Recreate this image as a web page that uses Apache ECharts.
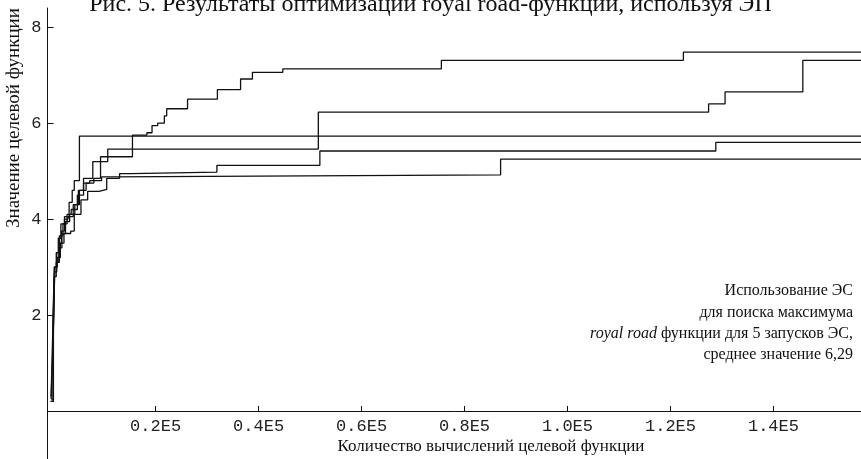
<!DOCTYPE html>
<html>
<head>
<meta charset="utf-8">
<script src="https://cdn.jsdelivr.net/npm/echarts@6/dist/echarts.min.js"></script>
<style>
html,body{margin:0;padding:0;background:#fff;}
#chart{width:861px;height:459px;}
</style>
</head>
<body>
<div id="chart"></div>
<script>
// ---- data ----
const titleText = 'Рис. 5. Результаты оптимизации royal road-функции, используя ЭП';
const yAxisTitle = 'Значение целевой функции';
const xAxisTitle = 'Количество вычислений целевой функции';
const xTickValues = [20000, 40000, 60000, 80000, 100000, 120000, 140000];
const xTickLabels = ['0.2E5', '0.4E5', '0.6E5', '0.8E5', '1.0E5', '1.2E5', '1.4E5'];
const yTickValues = [2, 4, 6, 8];
const yTickLabels = ['2', '4', '6', '8'];
const noteLine1 = 'Использование ЭС';
const noteLine2 = 'для поиска максимума';
const noteLine3Italic = 'royal road';
const noteLine3Rest = ' функции для 5 запусков ЭС,';
const noteLine4 = 'среднее значение 6,29';

const runA = [[-300,0.25],[0,1.2],[200,2.0],[400,2.9],[800,3.1],[1300,3.4],[1800,3.7],[2500,3.95],[3300,4.1],[4300,4.3],[5200,4.6],[6500,4.75],[8000,4.85],[9300,5.3],[15500,5.75],[18300,5.8],[19300,5.95],[20400,6.0],[21700,6.15],[22150,6.3],[26200,6.5],[32000,6.7],[36500,6.92],[38800,7.06],[44700,7.13],[75500,7.31],[122500,7.48],[157000,7.48]];
const runB = [[-400,0.2],[100,1.5],[300,2.8],[700,3.1],[1200,3.5],[1700,3.75],[2300,4.0],[3000,4.05],[4000,4.3],[5000,4.6],[6000,4.85],[7800,5.2],[10700,5.46],[51600,6.23],[127400,6.4],[130600,6.65],[145700,7.31],[157000,7.31]];
const runC = [[-300,0.3],[50,1.8],[300,3.0],[700,3.3],[1100,3.6],[1600,3.9],[2300,4.05],[3200,4.35],[3800,4.6],[4200,4.8],[5200,5.73],[157000,5.73]];
const runD = [[-400,0.2],[150,1.6],[400,3.0],[900,3.2],[1500,3.5],[2200,3.7],[3500,3.75],[4200,4.1],[5500,4.4],[6800,4.58],[9000,4.62],[10500,4.85],[13000,4.95],[15200,4.98],[31900,5.12],[51900,5.42],[128800,5.6],[157000,5.6]];
const runE = [[-300,0.25],[100,2.0],[400,3.0],[800,3.3],[1300,3.65],[2000,3.9],[2800,4.1],[3600,4.2],[4800,4.5],[6000,4.75],[7200,4.8],[9500,4.88],[11500,4.92],[87000,5.25],[157000,5.25]];
const runs = [runA, runB, runC, runD, runE];

// ---- chart ----
const chart = echarts.init(document.getElementById('chart'), null, {renderer: 'canvas'});
const serif = '"Liberation Serif", "Times New Roman", serif';
const mono = '"Liberation Mono", "Courier New", monospace';
const ink = '#111';

chart.setOption({
  animation: false,
  backgroundColor: '#ffffff',
  title: [{
    text: titleText,
    left: 'center',
    top: -12,
    textStyle: {fontFamily: serif, fontSize: 24, fontWeight: 'normal', color: ink}
  }],
  grid: {left: 47.5, right: 0, top: 8, bottom: 0, outerBoundsMode: 'none', containLabel: false},
  xAxis: {
    type: 'value',
    min: -1000,
    max: 157000,
    offset: -48,
    splitLine: {show: false},
    axisLine: {onZero: false, lineStyle: {color: ink, width: 1}},
    axisTick: {show: true, inside: true, length: 5, customValues: xTickValues, lineStyle: {color: ink}},
    axisLabel: {
      customValues: xTickValues,
      margin: 7,
      fontFamily: mono, fontSize: 17, color: '#222',
      formatter: v => { const i = xTickValues.indexOf(v); return i >= 0 ? xTickLabels[i] : ''; }
    }
  },
  yAxis: {
    type: 'value',
    min: -1,
    max: 8.4,
    splitLine: {show: false},
    axisLine: {onZero: false, lineStyle: {color: ink, width: 1}},
    axisTick: {show: true, inside: true, length: 6, customValues: yTickValues, lineStyle: {color: ink}},
    axisLabel: {
      customValues: yTickValues,
      margin: 6,
      fontFamily: mono, fontSize: 17, color: '#222',
      formatter: v => { const i = yTickValues.indexOf(v); return i >= 0 ? yTickLabels[i] : ''; }
    }
  },
  graphic: [
    {
      type: 'text', x: 14, y: 118, rotation: Math.PI / 2,
      style: {text: yAxisTitle, fontFamily: serif, fontSize: 19, fill: ink, align: 'center', verticalAlign: 'middle'}
    },
    {
      type: 'text', x: 491, y: 447,
      style: {text: xAxisTitle, fontFamily: serif, fontSize: 17, fill: ink, align: 'center', verticalAlign: 'middle'}
    },
    {
      type: 'text', x: 853, y: 291,
      style: {text: noteLine1, fontFamily: serif, fontSize: 16, fill: ink, align: 'right', verticalAlign: 'middle'}
    },
    {
      type: 'text', x: 853, y: 312.5,
      style: {text: noteLine2, fontFamily: serif, fontSize: 16, fill: ink, align: 'right', verticalAlign: 'middle'}
    },
    {
      type: 'text', x: 853, y: 334,
      style: {
        text: '{i|' + noteLine3Italic + '}{n|' + noteLine3Rest + '}',
        fontFamily: serif, fontSize: 16, fill: ink, align: 'right', verticalAlign: 'middle',
        rich: {
          i: {fontStyle: 'italic', fontFamily: serif, fontSize: 16, fill: ink},
          n: {fontFamily: serif, fontSize: 16, fill: ink}
        }
      }
    },
    {
      type: 'text', x: 853, y: 355,
      style: {text: noteLine4, fontFamily: serif, fontSize: 16, fill: ink, align: 'right', verticalAlign: 'middle'}
    }
  ],
  series: runs.map(r => ({
    type: 'line',
    data: r,
    step: 'end',
    symbol: 'none',
    lineStyle: {color: ink, width: 1.3},
    z: 3
  }))
});
</script>
</body>
</html>
